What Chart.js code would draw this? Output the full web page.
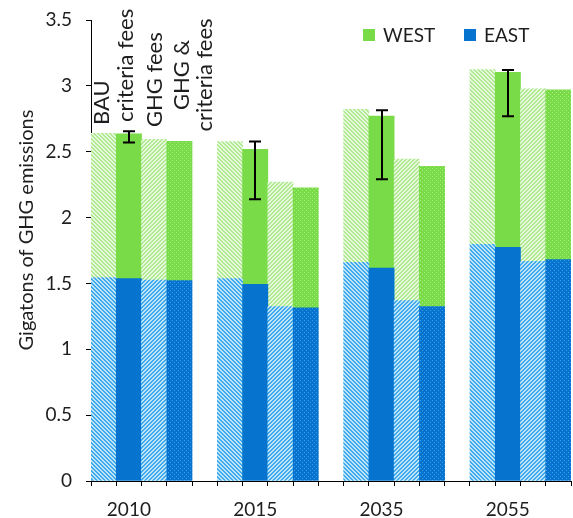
<!DOCTYPE html>
<html>
<head>
<meta charset="utf-8">
<script src="https://cdn.jsdelivr.net/npm/chart.js@4"></script>
<style>
  html, body { margin: 0; padding: 0; background: #fff; }
  #wrap { width: 573px; height: 518px; }
</style>
</head>
<body>
<div id="wrap"><canvas id="c" width="573" height="518"></canvas></div>
<script>
// Emissions by scenario, split into EAST (lower) and WEST (upper), gigatons
const years = ['2010', '2015', '2035', '2055'];
const scenarios = ['BAU', 'criteria fees', 'GHG fees', 'GHG & criteria fees'];

const eastBAU      = [1.545, 1.536, 1.660, 1.797];
const westBAU      = [1.095, 1.041, 1.162, 1.326];
const eastCriteria = [1.536, 1.493, 1.617, 1.774];
const westCriteria = [1.099, 1.025, 1.154, 1.329];
const eastGHG      = [1.526, 1.324, 1.370, 1.668];
const westGHG      = [1.068, 0.946, 1.075, 1.309];
const eastBoth     = [1.521, 1.314, 1.325, 1.681];
const westBoth     = [1.058, 0.911, 1.064, 1.288];

// uncertainty range on the criteria-fees total
const errLow  = [2.570, 2.139, 2.291, 2.769];
const errHigh = [2.655, 2.577, 2.815, 3.121];

const yTicks = [0, 0.5, 1, 1.5, 2, 2.5, 3, 3.5];

const FONT = 'Lato, "Open Sans", sans-serif';
const TEXT = '#1e1e1e';
const WEST_SOLID = '#79db47';
const EAST_SOLID = '#0674cf';

const canvas = document.getElementById('c');
const ctx = canvas.getContext('2d');

function makeTile(draw) {
  const t = document.createElement('canvas');
  t.width = t.height = 4;
  draw(t.getContext('2d'));
  return ctx.createPattern(t, 'repeat');
}
function stripes(bg, fg, dir) {
  return makeTile(g => {
    g.fillStyle = bg; g.fillRect(0, 0, 4, 4);
    g.fillStyle = fg;
    for (let i = 0; i < 4; i++) for (let j = 0; j < 4; j++) {
      const d = dir > 0 ? (i + j) % 4 : (i - j + 4) % 4;
      if (d < 2) g.fillRect(i, j, 1, 1);
    }
  });
}
function dots(bg, fg) {
  return makeTile(g => {
    g.fillStyle = bg; g.fillRect(0, 0, 4, 4);
    g.fillStyle = fg;
    g.fillRect(0, 0, 1, 1); g.fillRect(2, 2, 1, 1);
  });
}

// fill style per scenario: BAU and GHG fees hatched, the other two solid / dotted
const westFill = [
  stripes('#e8f9dd', '#afea92', -1),
  WEST_SOLID,
  stripes('#e8f9dd', '#afea92', 1),
  dots(WEST_SOLID, '#a8ec86')
];
const eastFill = [
  stripes('#bfe5fa', '#3fa9eb', -1),
  EAST_SOLID,
  stripes('#bfe5fa', '#3fa9eb', 1),
  dots(EAST_SOLID, '#3f9ce6')
];

const eastSeries = [eastBAU, eastCriteria, eastGHG, eastBoth];
const westSeries = [westBAU, westCriteria, westGHG, westBoth];

// 19 category slots: four scenario bars per year, one empty slot between years
const slotLabels = [], eastData = [], westData = [], eastColors = [], westColors = [];
years.forEach((yr, g) => {
  if (g > 0) {
    slotLabels.push(''); eastData.push(null); westData.push(null);
    eastColors.push('rgba(0,0,0,0)'); westColors.push('rgba(0,0,0,0)');
  }
  scenarios.forEach((s, k) => {
    slotLabels.push(k === 1 ? yr : '');
    eastData.push(eastSeries[k][g]);
    westData.push(westSeries[k][g]);
    eastColors.push(eastFill[k]);
    westColors.push(westFill[k]);
  });
});
const criteriaSlot = g => g * 5 + 1;

const overlay = {
  id: 'overlay',
  afterDatasetsDraw(chart) {
    const c = chart.ctx, xs = chart.scales.x, ys = chart.scales.y;
    c.save();
    // error bars
    c.strokeStyle = '#000';
    c.lineWidth = 2;
    years.forEach((yr, g) => {
      const x = Math.round(xs.getPixelForValue(criteriaSlot(g)));
      const y1 = ys.getPixelForValue(errLow[g]);
      const y2 = ys.getPixelForValue(errHigh[g]);
      c.beginPath();
      c.moveTo(x, y1); c.lineTo(x, y2);
      c.moveTo(x - 6, y1); c.lineTo(x + 6, y1);
      c.moveTo(x - 6, y2); c.lineTo(x + 6, y2);
      c.stroke();
    });

    c.fillStyle = TEXT;
    c.textBaseline = 'middle';
    // scenario names above the first group
    c.font = '22px ' + FONT;
    const names = [
      { text: 'BAU', dx: -2, y: 125 },
      { text: 'criteria fees', dx: -3, y: 122 },
      { text: 'GHG fees', dx: 1, y: 127 }
    ];
    names.forEach((n, k) => {
      const x = xs.getPixelForValue(k) + n.dx;
      c.save();
      c.translate(x, n.y);
      c.rotate(-Math.PI / 2);
      c.textAlign = 'left';
      c.fillText(n.text, 0, 0);
      c.restore();
    });
    const x3 = xs.getPixelForValue(3);
    [['GHG &', 2], ['criteria fees', 25]].forEach(([t, dx]) => {
      c.save();
      c.translate(x3 + dx, 75);
      c.rotate(-Math.PI / 2);
      c.textAlign = 'center';
      c.fillText(t, 0, 0);
      c.restore();
    });

    // legend
    c.font = '19px ' + FONT;
    const legend = [['WEST', WEST_SOLID, 363], ['EAST', EAST_SOLID, 464]];
    legend.forEach(([t, col, x]) => {
      c.fillStyle = col;
      c.fillRect(x, 29, 12, 12);
      c.fillStyle = TEXT;
      c.textAlign = 'left';
      c.fillText(t, x + 20, 35.5);
    });

    // y-axis title
    c.save();
    c.translate(27, 230);
    c.rotate(-Math.PI / 2);
    c.textAlign = 'center';
    c.font = '20px ' + FONT;
    c.fillText('Gigatons of GHG emissions', 0, 0);
    c.restore();
    c.restore();
  }
};

new Chart(canvas, {
  type: 'bar',
  data: {
    labels: slotLabels,
    datasets: [
      { label: 'EAST', data: eastData, backgroundColor: eastColors, borderWidth: 0,
        barPercentage: 1, categoryPercentage: 1 },
      { label: 'WEST', data: westData, backgroundColor: westColors, borderWidth: 0,
        barPercentage: 1, categoryPercentage: 1 }
    ]
  },
  options: {
    responsive: false,
    animation: false,
    layout: { padding: { top: 20, right: 2, left: 0, bottom: 0 } },
    plugins: { legend: { display: false }, tooltip: { enabled: false } },
    scales: {
      x: {
        stacked: true,
        grid: { display: true, drawOnChartArea: false, drawTicks: true, tickLength: 5,
                color: '#000', offset: true },
        border: { display: true, color: '#000', width: 1 },
        ticks: { autoSkip: false, maxRotation: 0, minRotation: 0, padding: 12,
                 color: TEXT, font: { family: FONT, size: 19 } },
        afterFit(s) { s.height = 37; }
      },
      y: {
        stacked: true,
        min: 0, max: 3.5,
        afterBuildTicks(s) { s.ticks = yTicks.map(v => ({ value: v })); },
        ticks: { padding: 14, color: TEXT, font: { family: FONT, size: 19, lineHeight: 0.6 },
                 callback: v => String(v) },
        grid: { display: true, drawOnChartArea: false, drawTicks: true, tickLength: 5,
                color: '#000' },
        border: { display: true, color: '#000', width: 1 },
        afterFit(s) { s.width = 91; }
      }
    }
  },
  plugins: [overlay]
});
</script>
</body>
</html>
